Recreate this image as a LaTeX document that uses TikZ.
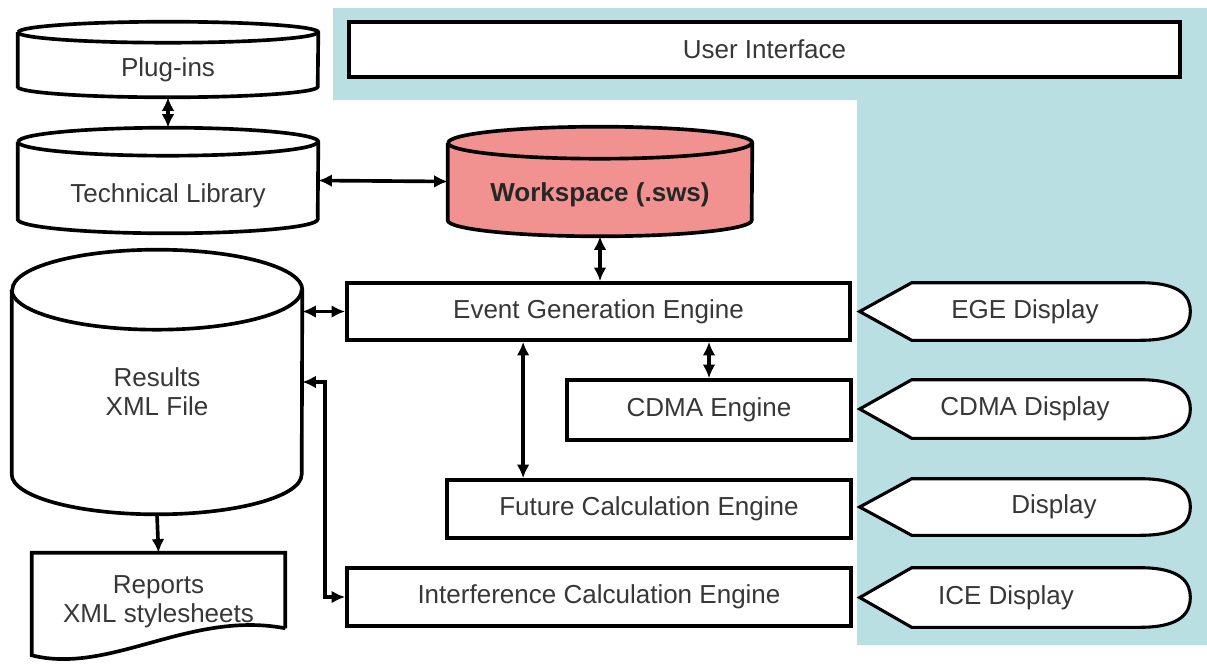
\documentclass[tikz,border=0pt]{standalone}
\usepackage{fontspec}
\setmainfont{Liberation Sans}
\usetikzlibrary{calc,positioning,arrows.meta,backgrounds}

\definecolor{uiblue}{RGB}{185,223,227}
\definecolor{wsred}{RGB}{242,146,144}
\definecolor{txt}{RGB}{55,55,55}

\tikzset{
	>={Latex[length=0.34cm,width=0.32cm]},
	box/.style={draw,line width=2.6pt,fill=white,text=txt,inner sep=0pt},
	store/.style={inner sep=0pt},
	lbl/.style={text=txt,inner sep=0pt,align=center},
	disp/.style={minimum width=8.25cm,text=txt,inner sep=0pt},
	link/.style={line width=2.6pt,<->},
}

% drum round a node: name, half width (px), radius of the ends (px), fill
\newcommand{\drum}[4]{%
	\filldraw[fill=#4,line width=2.6pt]
		($(#1.north west)+(0,#3)$) -- ($(#1.south west)+(0,-#3)$)
		arc[start angle=180,end angle=360,x radius=#2*0.025cm,y radius=#3*0.025cm]
		-- ($(#1.north east)+(0,#3)$)
		arc[start angle=0,end angle=180,x radius=#2*0.025cm,y radius=#3*0.025cm];
	\draw[line width=2.6pt] ($(#1.north west)+(0,#3)$)
		arc[start angle=180,end angle=360,x radius=#2*0.025cm,y radius=#3*0.025cm];
}

\begin{document}
\begin{tikzpicture}[x=0.025cm,y=-0.025cm,font=\fontsize{18.5}{20.5}\selectfont]
	\useasboundingbox (0,0) rectangle (1207,666);
	\begin{scope}[on background layer]
		\fill[uiblue] (333,8) -- (1207,8) -- (1207,645) -- (857,645) -- (857,100) -- (333,100) -- cycle;
	\end{scope}

	\node[box,minimum width=20.775cm,minimum height=1.375cm] (ui) at (764.5,49.5) {User Interface};

	% stores
	\node[store,minimum width=7.5cm,minimum height=1.875cm,
		label={[lbl,yshift=-0.26cm]center:Plug-ins}] (plug) at (168,59.5) {};
	\node[store,minimum width=7.5cm,minimum height=2.625cm,
		label={[lbl,yshift=-0.39cm]center:Technical Library}] (tlib) at (168,180.5) {};
	\node[store,minimum width=7.6cm,minimum height=2.725cm,
		label={[lbl,yshift=-0.34cm,text=black!85,font=\fontsize{18.5}{20.5}\selectfont\bfseries]center:Workspace (.sws)}] (ws) at (600,181.5) {};
	\node[store,minimum width=7.25cm,minimum height=6.6cm,
		label={[lbl,yshift=-0.24cm]center:Results\\XML File}] (res) at (157,382) {};
	\begin{scope}[on background layer]
		\drum{plug}{150}{10.5}{white}
		\drum{tlib}{150}{14}{white}
		\drum{ws}{152}{16}{wsred}
		\drum{res}{145}{40}{white}
	\end{scope}

	\node[align=center,text=txt,minimum width=6.325cm,minimum height=2.45cm,inner sep=0pt] (rep) at (158.5,602)
		{Reports\\XML stylesheets};
	\draw[line width=2.6pt] ($(rep.south east)+(0,-23)$) -- (rep.north east) -- (rep.north west)
		-- ($(rep.south west)+(0,4)$) .. controls (110,675) and (190,610) .. ($(rep.south east)+(0,-23)$);

	% engines
	\node[box,minimum width=12.575cm,minimum height=1.425cm] (ege) at (598.5,311.5) {Event Generation Engine};
	\node[box,minimum width=7.1cm,minimum height=1.5cm] (cdma) at (709,410) {CDMA Engine};
	\node[box,minimum width=10.1cm,minimum height=1.45cm] (fce) at (649,509) {Future Calculation Engine};
	\node[box,minimum width=12.6cm,minimum height=1.45cm] (ice) at (599,597) {Interference Calculation Engine};

	% displays
	\node[disp,minimum height=1.425cm] (dege) at (1025,311.5) {EGE Display};
	\node[disp,minimum height=1.45cm] (dcdma) at (1025,409) {CDMA Display};
	\node[disp,minimum height=1.4cm] (dfut) at (1025,507) {\hspace*{1.45cm}Display};
	\node[disp,minimum height=1.475cm] (dice) at (1025,597.5) {ICE Display\hspace*{0.95cm}};
	\begin{scope}[on background layer]
		\foreach \d in {dege,dcdma,dfut,dice}
			\filldraw[fill=white,line width=2.2pt] (\d.west) -- ($(\d.north west)+(52,0)$) -- ($(\d.north east)+(-50,0)$)
				.. controls ($(\d.north east)+(-8,0)$) and ($(\d.east)+(0,-14)$) .. (\d.east)
				.. controls ($(\d.east)+(0,14)$) and ($(\d.south east)+(-8,0)$) .. ($(\d.south east)+(-50,0)$)
				-- ($(\d.south west)+(52,0)$) -- cycle;
	\end{scope}

	% links
	\coordinate (f) at ($(fce.north west)+(78,0)$);
	\draw[link] (plug.south) -- (tlib.north);
	\draw[link] (tlib.east) -- (ws.west);
	\draw[link] (ws.south) -- (ws.south |- ege.north);
	\draw[link] (res.east |- ege.west) -- (ege.west);
	\draw[link] (cdma.north) -- (cdma.north |- ege.south);
	\draw[link] (f) -- (f |- ege.south);
	\draw[link] (res.east) -- ++(23,0) |- (ice.west);
	\draw[line width=2.6pt,->] (res.south) -- (rep.north);
\end{tikzpicture}
\end{document}
